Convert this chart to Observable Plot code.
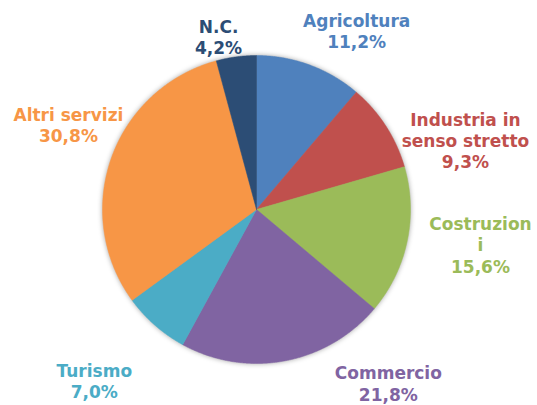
<!DOCTYPE html>
<html>
<head>
<meta charset="utf-8">
<script src="https://cdn.jsdelivr.net/npm/d3@7"></script>
<script src="https://cdn.jsdelivr.net/npm/@observablehq/plot@0.6"></script>
<style>
  html, body { margin: 0; padding: 0; background: #fff; }
  #chart svg { display: block; }
  #chart g[aria-label="line"] { filter: drop-shadow(0px 0px 2.5px rgba(0,0,0,0.35)); }
</style>
</head>
<body>
<div id="chart"></div>
<script>
// ---- data ----
const categories = ["Agricoltura", "Industria in senso stretto", "Costruzioni", "Commercio", "Turismo", "Altri servizi", "N.C."];
const values = [11.2, 9.3, 15.6, 21.8, 7.0, 30.8, 4.2];
const labelTexts = ["Agricoltura\n11,2%", "Industria in\nsenso stretto\n9,3%", "Costruzion\ni\n15,6%", "Commercio\n21,8%", "Turismo\n7,0%", "Altri servizi\n30,8%", "N.C.\n4,2%"];

// ---- styles / layout ----
const sliceColors = ["#4F81BD", "#C0504D", "#9BBB59", "#8064A2", "#4BACC6", "#F79646", "#2C4D75"];
const labelAngle = [29.3, 71.7, 98.9, 142.8, 223.5, 294.3, 347.6]; // degrees clockwise from top
const labelDist = [1.329, 1.429, 1.472, 1.416, 1.530, 1.340, 1.147]; // in pie radii

const W = 537, H = 405, cx = 256, cy = 209, R = 154;

const pie = d3.pie().sort(null).value(d => d.value);
const arcs = pie(categories.map((name, i) => ({name, value: values[i]})));

const pts = [];
for (const a of arcs) {
  const name = a.data.name;
  pts.push({name, x: 0, y: 0});
  const n = Math.max(2, Math.ceil((a.endAngle - a.startAngle) / 0.005));
  for (let k = 0; k <= n; k++) {
    const t = a.startAngle + (a.endAngle - a.startAngle) * k / n;
    pts.push({name, x: Math.sin(t), y: Math.cos(t)});
  }
  pts.push({name, x: 0, y: 0});
}

const labels = categories.map((name, i) => {
  const t = labelAngle[i] * Math.PI / 180;
  return {name, text: labelTexts[i], x: labelDist[i] * Math.sin(t), y: labelDist[i] * Math.cos(t)};
});

const chart = Plot.plot({
  width: W, height: H,
  margin: 0,
  x: {domain: [-cx / R, (W - cx) / R], range: [0, W], axis: null},
  y: {domain: [-(H - cy) / R, cy / R], range: [H, 0], axis: null},
  color: {domain: categories, range: sliceColors},
  style: {fontFamily: "'DejaVu Sans', Verdana, sans-serif", background: "#fff"},
  marks: [
    Plot.line(pts, {x: "x", y: "y", z: "name", fill: "name", stroke: "name", strokeWidth: 0.5, curve: "linear"}),
    Plot.text(labels, {x: "x", y: "y", text: "text", fill: "name", fontSize: 17, fontWeight: "bold", lineHeight: 1.25, textAnchor: "middle", lineAnchor: "middle"})
  ]
});
document.getElementById("chart").appendChild(chart);
</script>
</body>
</html>
